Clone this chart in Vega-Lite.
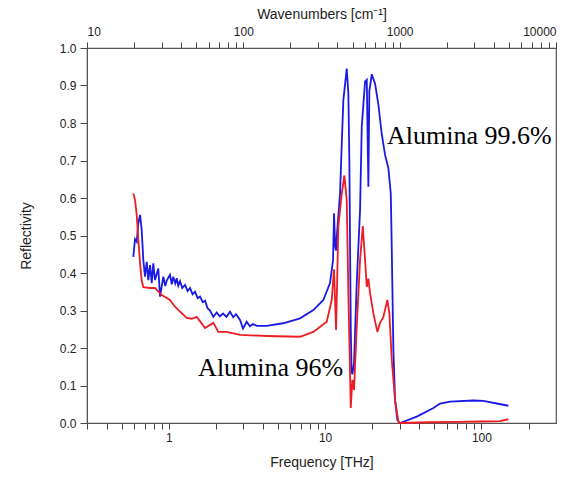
{
  "$schema": "https://vega.github.io/schema/vega-lite/v6.json",
  "autosize": "none",
  "width": 469,
  "height": 375,
  "padding": {"left": 87, "top": 48, "right": 29, "bottom": 59},
  "background": "white",
  "config": {
    "view": {"stroke": "#555", "strokeWidth": 1.2},
    "axis": {"labelFont": "Liberation Sans", "titleFont": "Liberation Sans", "labelColor": "#222", "titleColor": "#222", "domainColor": "#555", "tickColor": "#444", "tickWidth": 1, "grid": false, "labelFontSize": 12, "titleFontSize": 14, "titleFontWeight": "normal", "labelOverlap": false}
  },
  "datasets": {
    "spectra": [
      {"f": 0.593, "r": 0.443, "s": "Alumina 99.6%"},
      {"f": 0.608, "r": 0.49, "s": "Alumina 99.6%"},
      {"f": 0.6235, "r": 0.483, "s": "Alumina 99.6%"},
      {"f": 0.638, "r": 0.532, "s": "Alumina 99.6%"},
      {"f": 0.655, "r": 0.555, "s": "Alumina 99.6%"},
      {"f": 0.671, "r": 0.515, "s": "Alumina 99.6%"},
      {"f": 0.687, "r": 0.435, "s": "Alumina 99.6%"},
      {"f": 0.7045, "r": 0.39, "s": "Alumina 99.6%"},
      {"f": 0.7225, "r": 0.43, "s": "Alumina 99.6%"},
      {"f": 0.7396, "r": 0.381, "s": "Alumina 99.6%"},
      {"f": 0.7585, "r": 0.421, "s": "Alumina 99.6%"},
      {"f": 0.778, "r": 0.373, "s": "Alumina 99.6%"},
      {"f": 0.796, "r": 0.426, "s": "Alumina 99.6%"},
      {"f": 0.816, "r": 0.381, "s": "Alumina 99.6%"},
      {"f": 0.857, "r": 0.412, "s": "Alumina 99.6%"},
      {"f": 0.879, "r": 0.337, "s": "Alumina 99.6%"},
      {"f": 0.9225, "r": 0.39, "s": "Alumina 99.6%"},
      {"f": 0.95, "r": 0.365, "s": "Alumina 99.6%"},
      {"f": 0.97, "r": 0.38, "s": "Alumina 99.6%"},
      {"f": 1.018, "r": 0.395, "s": "Alumina 99.6%"},
      {"f": 1.045, "r": 0.37, "s": "Alumina 99.6%"},
      {"f": 1.069, "r": 0.39, "s": "Alumina 99.6%"},
      {"f": 1.1, "r": 0.372, "s": "Alumina 99.6%"},
      {"f": 1.124, "r": 0.386, "s": "Alumina 99.6%"},
      {"f": 1.15, "r": 0.366, "s": "Alumina 99.6%"},
      {"f": 1.18, "r": 0.378, "s": "Alumina 99.6%"},
      {"f": 1.22, "r": 0.36, "s": "Alumina 99.6%"},
      {"f": 1.27, "r": 0.368, "s": "Alumina 99.6%"},
      {"f": 1.32, "r": 0.352, "s": "Alumina 99.6%"},
      {"f": 1.367, "r": 0.36, "s": "Alumina 99.6%"},
      {"f": 1.42, "r": 0.343, "s": "Alumina 99.6%"},
      {"f": 1.472, "r": 0.35, "s": "Alumina 99.6%"},
      {"f": 1.53, "r": 0.333, "s": "Alumina 99.6%"},
      {"f": 1.584, "r": 0.337, "s": "Alumina 99.6%"},
      {"f": 1.65, "r": 0.322, "s": "Alumina 99.6%"},
      {"f": 1.706, "r": 0.326, "s": "Alumina 99.6%"},
      {"f": 1.77, "r": 0.306, "s": "Alumina 99.6%"},
      {"f": 1.836, "r": 0.3, "s": "Alumina 99.6%"},
      {"f": 1.927, "r": 0.283, "s": "Alumina 99.6%"},
      {"f": 2.026, "r": 0.295, "s": "Alumina 99.6%"},
      {"f": 2.12, "r": 0.284, "s": "Alumina 99.6%"},
      {"f": 2.224, "r": 0.292, "s": "Alumina 99.6%"},
      {"f": 2.34, "r": 0.283, "s": "Alumina 99.6%"},
      {"f": 2.465, "r": 0.297, "s": "Alumina 99.6%"},
      {"f": 2.58, "r": 0.282, "s": "Alumina 99.6%"},
      {"f": 2.691, "r": 0.29, "s": "Alumina 99.6%"},
      {"f": 2.856, "r": 0.275, "s": "Alumina 99.6%"},
      {"f": 2.984, "r": 0.252, "s": "Alumina 99.6%"},
      {"f": 3.152, "r": 0.27, "s": "Alumina 99.6%"},
      {"f": 3.3, "r": 0.258, "s": "Alumina 99.6%"},
      {"f": 3.457, "r": 0.264, "s": "Alumina 99.6%"},
      {"f": 3.652, "r": 0.259, "s": "Alumina 99.6%"},
      {"f": 4.233, "r": 0.259, "s": "Alumina 99.6%"},
      {"f": 5.381, "r": 0.266, "s": "Alumina 99.6%"},
      {"f": 6.913, "r": 0.279, "s": "Alumina 99.6%"},
      {"f": 8.409, "r": 0.301, "s": "Alumina 99.6%"},
      {"f": 9.743, "r": 0.328, "s": "Alumina 99.6%"},
      {"f": 10.75, "r": 0.373, "s": "Alumina 99.6%"},
      {"f": 11.24, "r": 0.435, "s": "Alumina 99.6%"},
      {"f": 11.4, "r": 0.559, "s": "Alumina 99.6%"},
      {"f": 11.6, "r": 0.47, "s": "Alumina 99.6%"},
      {"f": 11.75, "r": 0.46, "s": "Alumina 99.6%"},
      {"f": 11.92, "r": 0.507, "s": "Alumina 99.6%"},
      {"f": 12.46, "r": 0.612, "s": "Alumina 99.6%"},
      {"f": 12.78, "r": 0.746, "s": "Alumina 99.6%"},
      {"f": 13.08, "r": 0.861, "s": "Alumina 99.6%"},
      {"f": 13.75, "r": 0.945, "s": "Alumina 99.6%"},
      {"f": 14.08, "r": 0.879, "s": "Alumina 99.6%"},
      {"f": 14.29, "r": 0.701, "s": "Alumina 99.6%"},
      {"f": 14.44, "r": 0.47, "s": "Alumina 99.6%"},
      {"f": 14.59, "r": 0.25, "s": "Alumina 99.6%"},
      {"f": 14.76, "r": 0.14, "s": "Alumina 99.6%"},
      {"f": 14.94, "r": 0.13, "s": "Alumina 99.6%"},
      {"f": 15.31, "r": 0.16, "s": "Alumina 99.6%"},
      {"f": 15.54, "r": 0.24, "s": "Alumina 99.6%"},
      {"f": 15.93, "r": 0.373, "s": "Alumina 99.6%"},
      {"f": 16.73, "r": 0.568, "s": "Alumina 99.6%"},
      {"f": 17.15, "r": 0.79, "s": "Alumina 99.6%"},
      {"f": 18.01, "r": 0.91, "s": "Alumina 99.6%"},
      {"f": 18.47, "r": 0.915, "s": "Alumina 99.6%"},
      {"f": 18.91, "r": 0.63, "s": "Alumina 99.6%"},
      {"f": 19.18, "r": 0.885, "s": "Alumina 99.6%"},
      {"f": 19.88, "r": 0.93, "s": "Alumina 99.6%"},
      {"f": 20.87, "r": 0.905, "s": "Alumina 99.6%"},
      {"f": 21.9, "r": 0.85, "s": "Alumina 99.6%"},
      {"f": 23.03, "r": 0.77, "s": "Alumina 99.6%"},
      {"f": 24.18, "r": 0.715, "s": "Alumina 99.6%"},
      {"f": 25.38, "r": 0.68, "s": "Alumina 99.6%"},
      {"f": 26.3, "r": 0.612, "s": "Alumina 99.6%"},
      {"f": 26.6, "r": 0.5, "s": "Alumina 99.6%"},
      {"f": 26.9, "r": 0.373, "s": "Alumina 99.6%"},
      {"f": 27.33, "r": 0.195, "s": "Alumina 99.6%"},
      {"f": 28.02, "r": 0.061, "s": "Alumina 99.6%"},
      {"f": 28.98, "r": 0.008, "s": "Alumina 99.6%"},
      {"f": 30.16, "r": 0.0, "s": "Alumina 99.6%"},
      {"f": 38.58, "r": 0.017, "s": "Alumina 99.6%"},
      {"f": 49.26, "r": 0.04, "s": "Alumina 99.6%"},
      {"f": 54.35, "r": 0.052, "s": "Alumina 99.6%"},
      {"f": 63.02, "r": 0.057, "s": "Alumina 99.6%"},
      {"f": 88.8, "r": 0.06, "s": "Alumina 99.6%"},
      {"f": 102.9, "r": 0.059, "s": "Alumina 99.6%"},
      {"f": 125.3, "r": 0.052, "s": "Alumina 99.6%"},
      {"f": 148.7, "r": 0.046, "s": "Alumina 99.6%"},
      {"f": 0.593, "r": 0.612, "s": "Alumina 96%"},
      {"f": 0.608, "r": 0.595, "s": "Alumina 96%"},
      {"f": 0.6235, "r": 0.555, "s": "Alumina 96%"},
      {"f": 0.638, "r": 0.49, "s": "Alumina 96%"},
      {"f": 0.655, "r": 0.426, "s": "Alumina 96%"},
      {"f": 0.671, "r": 0.38, "s": "Alumina 96%"},
      {"f": 0.687, "r": 0.362, "s": "Alumina 96%"},
      {"f": 0.7585, "r": 0.36, "s": "Alumina 96%"},
      {"f": 0.816, "r": 0.36, "s": "Alumina 96%"},
      {"f": 0.901, "r": 0.341, "s": "Alumina 96%"},
      {"f": 1.018, "r": 0.328, "s": "Alumina 96%"},
      {"f": 1.096, "r": 0.31, "s": "Alumina 96%"},
      {"f": 1.18, "r": 0.297, "s": "Alumina 96%"},
      {"f": 1.303, "r": 0.28, "s": "Alumina 96%"},
      {"f": 1.4, "r": 0.278, "s": "Alumina 96%"},
      {"f": 1.509, "r": 0.283, "s": "Alumina 96%"},
      {"f": 1.706, "r": 0.253, "s": "Alumina 96%"},
      {"f": 1.927, "r": 0.267, "s": "Alumina 96%"},
      {"f": 2.074, "r": 0.243, "s": "Alumina 96%"},
      {"f": 2.348, "r": 0.243, "s": "Alumina 96%"},
      {"f": 2.856, "r": 0.235, "s": "Alumina 96%"},
      {"f": 4.233, "r": 0.232, "s": "Alumina 96%"},
      {"f": 6.913, "r": 0.23, "s": "Alumina 96%"},
      {"f": 8.409, "r": 0.243, "s": "Alumina 96%"},
      {"f": 10.24, "r": 0.27, "s": "Alumina 96%"},
      {"f": 11.02, "r": 0.328, "s": "Alumina 96%"},
      {"f": 11.4, "r": 0.41, "s": "Alumina 96%"},
      {"f": 11.75, "r": 0.248, "s": "Alumina 96%"},
      {"f": 12.15, "r": 0.524, "s": "Alumina 96%"},
      {"f": 12.78, "r": 0.612, "s": "Alumina 96%"},
      {"f": 13.28, "r": 0.66, "s": "Alumina 96%"},
      {"f": 13.75, "r": 0.595, "s": "Alumina 96%"},
      {"f": 14.08, "r": 0.347, "s": "Alumina 96%"},
      {"f": 14.44, "r": 0.133, "s": "Alumina 96%"},
      {"f": 14.59, "r": 0.04, "s": "Alumina 96%"},
      {"f": 14.94, "r": 0.115, "s": "Alumina 96%"},
      {"f": 15.31, "r": 0.088, "s": "Alumina 96%"},
      {"f": 15.93, "r": 0.257, "s": "Alumina 96%"},
      {"f": 16.73, "r": 0.435, "s": "Alumina 96%"},
      {"f": 17.41, "r": 0.525, "s": "Alumina 96%"},
      {"f": 18.01, "r": 0.435, "s": "Alumina 96%"},
      {"f": 18.47, "r": 0.363, "s": "Alumina 96%"},
      {"f": 18.91, "r": 0.385, "s": "Alumina 96%"},
      {"f": 19.38, "r": 0.347, "s": "Alumina 96%"},
      {"f": 20.35, "r": 0.293, "s": "Alumina 96%"},
      {"f": 21.58, "r": 0.243, "s": "Alumina 96%"},
      {"f": 22.46, "r": 0.267, "s": "Alumina 96%"},
      {"f": 23.58, "r": 0.283, "s": "Alumina 96%"},
      {"f": 25.01, "r": 0.328, "s": "Alumina 96%"},
      {"f": 25.76, "r": 0.293, "s": "Alumina 96%"},
      {"f": 26.69, "r": 0.168, "s": "Alumina 96%"},
      {"f": 28.02, "r": 0.061, "s": "Alumina 96%"},
      {"f": 29.41, "r": 0.004, "s": "Alumina 96%"},
      {"f": 30.16, "r": 0.0, "s": "Alumina 96%"},
      {"f": 46.92, "r": 0.002, "s": "Alumina 96%"},
      {"f": 72.97, "r": 0.003, "s": "Alumina 96%"},
      {"f": 98.0, "r": 0.004, "s": "Alumina 96%"},
      {"f": 131.5, "r": 0.005, "s": "Alumina 96%"},
      {"f": 148.7, "r": 0.01, "s": "Alumina 96%"}
    ],
    "labels": [
      {"f": 24.9, "r": 0.744, "t": "Alumina 99.6%"},
      {"f": 1.54, "r": 0.125, "t": "Alumina 96%"}
    ],
    "wavenumbers": [
      {"wn": 10},
      {"wn": 10000}
    ]
  },
  "layer": [
    {
      "encoding": {
        "x": {"field": "f", "type": "quantitative",
          "scale": {"type": "log", "domain": [0.2998, 299.8], "nice": false},
          "axis": {"orient": "bottom", "title": "Frequency [THz]", "labelPadding": 3, "titlePadding": 12,
            "values": [0.3,0.4,0.5,0.6,0.7,0.8,0.9,1,2,3,4,5,6,7,8,9,10,20,30,40,50,60,70,80,90,100,200],
            "tickSize": 6,
            "labelExpr": "indexof([1,10,100], datum.value) >= 0 ? format(datum.value, 'd') : ''"}},
        "y": {"field": "r", "type": "quantitative",
          "scale": {"domain": [0, 1], "nice": false},
          "axis": {"title": "Reflectivity", "values": [0,0.1,0.2,0.3,0.4,0.5,0.6,0.7,0.8,0.9,1.0], "format": ".1f", "tickSize": 7, "labelPadding": 4, "titlePadding": 26}}
      },
      "layer": [
        {
          "data": {"name": "spectra"},
          "mark": {"type": "line", "strokeWidth": 1.8},
          "encoding": {
            "color": {"field": "s", "type": "nominal",
              "scale": {"domain": ["Alumina 99.6%", "Alumina 96%"], "range": ["#1a1ae6", "#ee1c24"]},
              "legend": null}
          }
        },
        {
          "data": {"name": "labels"},
          "mark": {"type": "text", "align": "left", "baseline": "alphabetic", "font": "Liberation Serif", "fontSize": 26, "color": "black"},
          "encoding": {
            "text": {"field": "t"}
          }
        }
      ]
    },
    {
      "data": {"name": "wavenumbers"},
      "mark": {"type": "point", "opacity": 0},
      "encoding": {
        "x": {"field": "wn", "type": "quantitative",
          "scale": {"type": "log", "domain": [10, 10000], "nice": false},
          "axis": {"orient": "top", "title": "Wavenumbers [cm⁻¹]", "labelPadding": 4, "titlePadding": 4,
            "values": [10,20,30,40,50,60,70,80,90,100,200,300,400,500,600,700,800,900,1000,2000,3000,4000,5000,6000,7000,8000,9000,10000],
            "tickSize": 6,
            "labelExpr": "indexof([10,100,1000,10000], datum.value) >= 0 ? format(datum.value, 'd') : ''"}}
      }
    }
  ],
  "resolve": {"scale": {"x": "independent"}, "axis": {"x": "independent"}}
}
